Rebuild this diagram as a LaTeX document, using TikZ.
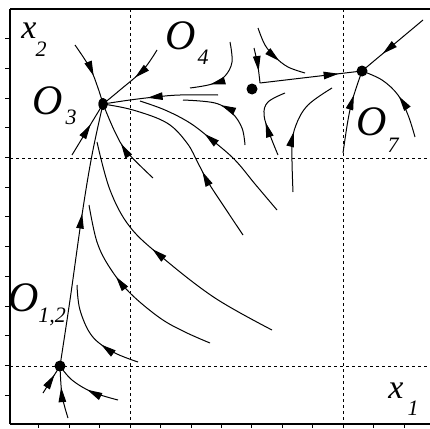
\documentclass[tikz,border=0pt]{standalone}
\usepackage{fontspec}
\setmainfont{Liberation Serif}
\usetikzlibrary{arrows.meta,decorations.markings,shapes.geometric}
\begin{document}
\begin{tikzpicture}[x=1pt,y=-1pt,
  traj/.style={line width=1pt, line join=round},
  tip/.style={},
  am/.style={postaction={decorate},decoration={markings,mark=at position #1 with {\arrow{Triangle[length=15pt,width=7.5pt]}}}},
  gridline/.style={line width=0.8pt, dash pattern=on 3pt off 3pt},
  eq/.style={fill=black, circle, inner sep=0pt, minimum size=10pt},
  big/.style={font=\fontsize{42}{42}\selectfont\itshape, inner sep=0pt},
  xbig/.style={font=\fontsize{34}{34}\selectfont\itshape, inner sep=0pt},
  sub/.style={font=\fontsize{22}{22}\selectfont\itshape, inner sep=0pt},
]
\useasboundingbox (0,0) rectangle (430,428);
% frame
\draw[line width=1.3pt] (10,9) -- (10,424);
\draw[line width=1.7pt] (10,9) -- (430,9);
\draw[line width=1.5pt] (10,424) -- (430,424);
% ticks
\foreach \k in {0,...,12} \draw[line width=0.7pt] (5,{395-29.7*\k}) -- (10,{395-29.7*\k});
\foreach \k in {-3,...,9} \draw[line width=0.7pt] ({130+30.43*\k},424) -- ({130+30.43*\k},428);
% dashed lines
\draw[gridline] (130,9) -- (130,424);
\draw[gridline] (343,9) -- (343,424);
\draw[gridline] (10,158) -- (430,158);
\draw[gridline] (10,366) -- (430,366);

% equilibria (named)
\node[eq, ellipse, minimum width=9pt, minimum height=12pt] (O3) at (103,104) {};
\node[eq] (O4) at (252,89) {};
\node[eq] (O7) at (362,71) {};
\node[eq] (O12) at (60,366) {};

% free ends
\coordinate (s1) at (75,45);
\coordinate (s2) at (157,50);
\coordinate (s3) at (230,42);
\coordinate (e3) at (190,88);
\coordinate (s4) at (218,95);
\coordinate (sC) at (245,145);
\coordinate (eC) at (183,100);
\coordinate (sB7) at (277,210);
\coordinate (eB7) at (140,101);
\coordinate (sB6) at (243,235);
\coordinate (sB5) at (153,178);
\coordinate (sL) at (72,155);
\coordinate (sB1) at (210,343);
\coordinate (eB1) at (89,205);
\coordinate (sB2) at (272,330);
\coordinate (eB2) at (97,142);
\coordinate (sB3) at (138,362);
\coordinate (eB3) at (77,285);
\coordinate (sB4) at (118,400);
\coordinate (sLL) at (43,393);
\coordinate (sBot) at (68,418);
\coordinate (sD) at (254,48);
\coordinate (cD) at (260,83);
\coordinate (sE) at (258,28);
\coordinate (eE) at (305,73);
\coordinate (sF) at (278,155);
\coordinate (eF) at (285,93);
\coordinate (sG) at (293,192);
\coordinate (eG) at (332,88);
\coordinate (sTR) at (423,20);
\coordinate (sH) at (343,153);
\coordinate (sI) at (415,137);

% trajectories
\draw[traj, am=0.55] plot[smooth, tension=0.6] coordinates {(s1) (90,68) (98,88) (O3.center)};
\draw[traj, am=0.46] plot[smooth, tension=0.6] coordinates {(s2) (143,70) (120,90) (O3.center)};
\draw[traj, am=0.72] plot[smooth, tension=0.6] coordinates {(s3) (232,62) (225,76) (212,84) (e3)};
\draw[traj, am=0.61] plot[smooth, tension=0.6] coordinates {(s4) (180,95) (155,97) (130,100) (O3.center)};
\draw[traj, am=0.56] plot[smooth, tension=0.6] coordinates {(sC) (242,128) (232,113) (215,103) (eC)};
\draw[traj, am=0.59] plot[smooth, tension=0.6] coordinates {(sB7) (255,184) (235,160) (212,140) (190,123) (165,110) (eB7)};
\draw[traj, am=0.37] plot[smooth, tension=0.6] coordinates {(sB6) (225,208) (208,182) (198,163) (187,143) (167,123) (133,110) (O3.center)};
\draw[traj, am=0.52] plot[smooth, tension=0.6] coordinates {(sB5) (127,152) (115,132) (O3.center)};
\draw[traj, am=0.6] (sL) -- (O3.center);
\draw[traj, am=0.58] plot[smooth, tension=0.6] coordinates {(O12.center) (70,300) (82,215) (92,155) (O3.center)};
\draw[traj, am=0.6] plot[smooth, tension=0.6] coordinates {(sB1) (185,332) (160,318) (130,293) (110,268) (97,242) (eB1)};
\draw[traj, am=0.54] plot[smooth, tension=0.6] coordinates {(sB2) (215,298) (163,258) (130,227) (110,190) (eB2)};
\draw[traj, am=0.38] plot[smooth, tension=0.6] coordinates {(sB3) (113,352) (92,336) (80,310) (eB3)};
\draw[traj, am=0.47] plot[smooth, tension=0.6] coordinates {(sB4) (92,392) (72,380) (O12.center)};
\draw[traj, am=0.68] (sLL) -- (O12.center);
\draw[traj, am=0.6] plot[smooth, tension=0.6] coordinates {(sBot) (62,395) (O12.center)};
\draw[traj, postaction={decorate}, decoration={markings,
    mark=at position 0.17 with {\arrow{Triangle[length=15pt,width=7.5pt]}},
    mark=at position 0.83 with {\arrow{Triangle[length=15pt,width=7.5pt]}}}]
  (sD) .. controls (258,65) .. (cD) -- (O7.center);
\draw[traj, am=0.58] plot[smooth, tension=0.6] coordinates {(sE) (265,45) (275,57) (288,67) (eE)};
\draw[traj, am=0.46] plot[smooth, tension=0.6] coordinates {(sF) (270,135) (264,115) (268,102) (eF)};
\draw[traj, am=0.5] plot[smooth, tension=0.6] coordinates {(sG) (292,147) (296,125) (308,105) (eG)};
\draw[traj, am=0.66] (sTR) -- (O7.center);
\draw[traj, am=0.7] plot[smooth, tension=0.6] coordinates {(sH) (348,120) (353,98) (O7.center)};
\draw[traj, am=0.49] plot[smooth, tension=0.6] coordinates {(sI) (408,115) (398,95) (382,80) (O7.center)};

% redraw dots on top
\fill (O3) ellipse [x radius=4.5pt, y radius=6pt];
\fill (O4) circle [radius=5.5pt];
\fill (O7) circle [radius=5.5pt];
\fill (O12) circle [radius=5.5pt];

% labels
\node[xbig] (lx2) at (29,31) {x};
\node[sub] (lx2s) at (41,49) {2};
\node[big] (lO4) at (181,36) {O};
\node[sub] (lO4s) at (203,57) {4};
\node[big] (lO3) at (48,101) {O};
\node[sub] (lO3s) at (71,117) {3};
\node[big] (lO7) at (372,122) {O};
\node[sub] (lO7s) at (393,145) {7};
\node[big] (lO12) at (24,298) {O};
\node[sub] (lO12s) at (52,317) {1,2};
\node[xbig] (lx1) at (396,391) {x};
\node[sub] (lx1s) at (413,408) {1};
\end{tikzpicture}
\end{document}
